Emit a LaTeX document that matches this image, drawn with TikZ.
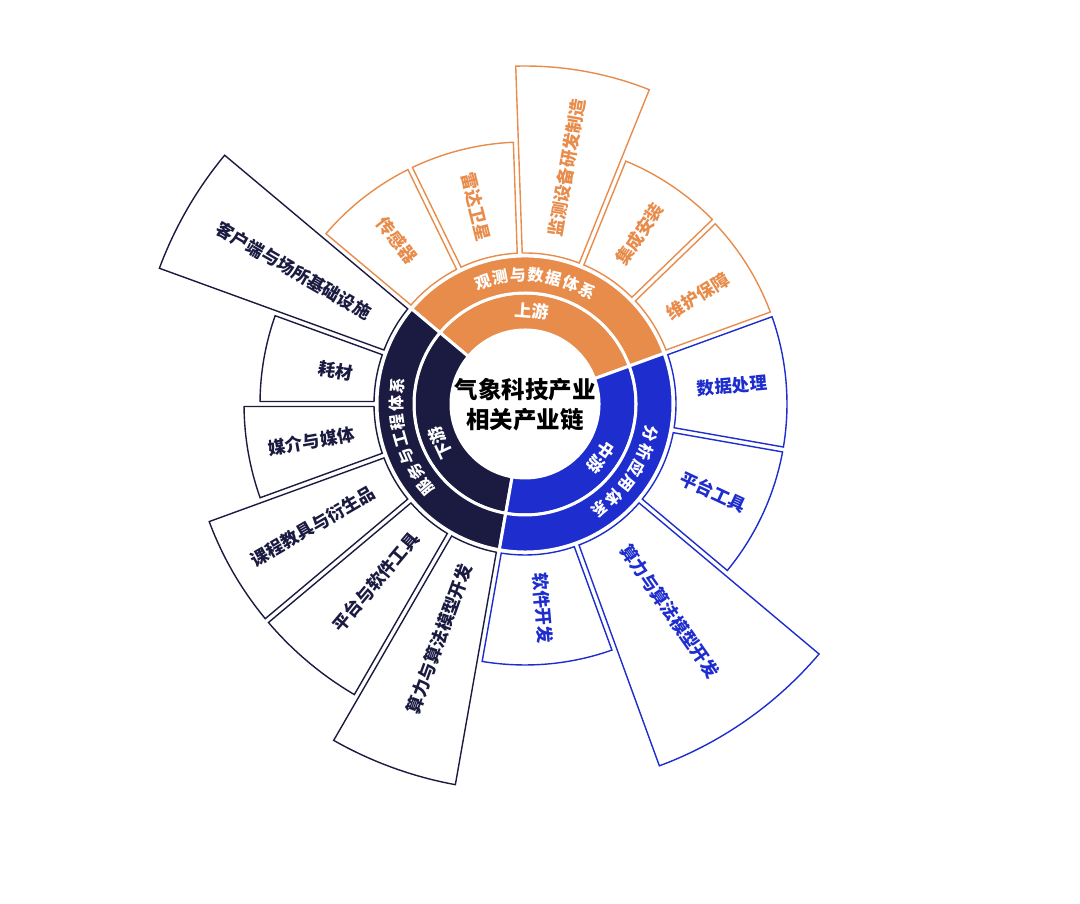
\documentclass[tikz,border=0pt]{standalone}
\usepackage{fontspec}
\setmainfont{Noto Sans CJK SC}
\definecolor{cOr}{HTML}{E88C4C}
\definecolor{cBl}{HTML}{1E2DCD}
\definecolor{cNv}{HTML}{1B1B42}
% a1 a2 r1 r2 inset
\newcommand{\secpath}[5]{({#1+asin(#5/#3)}:#3pt) -- ({#1+asin(#5/#4)}:#4pt) arc[start angle={#1+asin(#5/#4)}, end angle={#2-asin(#5/#4)}, radius=#4pt] -- ({#2-asin(#5/#3)}:#3pt) arc[start angle={#2-asin(#5/#3)}, end angle={#1+asin(#5/#3)}, radius=#3pt] -- cycle}
\tikzset{
  ringseg/.style={draw=white, line width=3pt},
  outbox/.style={line width=1.4pt, fill=white, line join=miter},
  r1lab/.style={text=white, font=\bfseries\fontsize{17}{17}\selectfont, inner sep=0pt},
  r2lab/.style={text=white, font=\bfseries\fontsize{16}{16}\selectfont, inner sep=0pt},
  olab/.style={font=\bfseries\fontsize{17.5}{18}\selectfont, inner sep=0pt},
  ctitle/.style={align=center, font=\bfseries\fontsize{23.5}{30}\selectfont, inner sep=0pt}
}
\begin{document}
\begin{tikzpicture}[x=1pt,y=1pt]
\useasboundingbox (0,0) rectangle (1080,904);
\begin{scope}[shift={(525,500)}]
% inner rings
\path[ringseg, fill=cOr] \secpath{20}{140}{74}{111}{0};
\path[ringseg, fill=cOr] \secpath{20}{140}{111}{148}{0};
\path[ringseg, fill=cNv] \secpath{140}{260}{74}{111}{0};
\path[ringseg, fill=cNv] \secpath{140}{260}{111}{148}{0};
\path[ringseg, fill=cBl] \secpath{-100}{20}{74}{111}{0};
\path[ringseg, fill=cBl] \secpath{-100}{20}{111}{148}{0};
% outer boxes: orange
\draw[outbox, draw=cOr] \secpath{20}{44}{151}{262}{2.5};
\draw[outbox, draw=cOr] \secpath{44}{68}{151}{263}{2.5};
\draw[outbox, draw=cOr] \secpath{68}{92}{151}{338}{2.5};
\draw[outbox, draw=cOr] \secpath{92}{116}{151}{262}{2.5};
\draw[outbox, draw=cOr] \secpath{116}{140}{151}{262}{2.5};
% navy
\draw[outbox, draw=cNv] \secpath{140}{160}{151}{390}{2.5};
\draw[outbox, draw=cNv] \secpath{160}{180}{151}{265}{2.5};
\draw[outbox, draw=cNv] \secpath{180}{200}{151}{281}{2.5};
\draw[outbox, draw=cNv] \secpath{200}{220}{151}{337}{2.5};
\draw[outbox, draw=cNv] \secpath{220}{240}{151}{337}{2.5};
\draw[outbox, draw=cNv] \secpath{240}{260}{151}{387}{2.5};
% blue
\draw[outbox, draw=cBl] \secpath{-100}{-70}{151}{261}{2.5};
\draw[outbox, draw=cBl] \secpath{-70}{-40}{151}{386}{2.5};
\draw[outbox, draw=cBl] \secpath{-40}{-10}{151}{262}{2.5};
\draw[outbox, draw=cBl] \secpath{-10}{20}{151}{262}{2.5};
% center title
\node[ctitle] (title) at (0,-1pt) {气象科技产业\\相关产业链};
% ring 1 labels
\node[r1lab, rotate=-4] (up) at (86:93pt) {上游};
\node[r1lab, rotate=-125] (midl) at (-35:93pt) {中游};
\node[r1lab, rotate=115] (down) at (205:93pt) {下游};
% ring 2 labels, character by character along the arc
\foreach \c [count=\i] in {观,测,与,数,据,体,系}
  \node[r2lab, rotate={85+(4-\i)*8-90}] (obs\i) at ({85+(4-\i)*8}:129pt) {\c};
\foreach \c [count=\i] in {分,析,应,用,体,系}
  \node[r2lab, rotate={-34+(3.5-\i)*8.2-90}] (ana\i) at ({-34+(3.5-\i)*8.2}:129pt) {\c};
\foreach \c [count=\i] in {服,务,与,工,程,体,系}
  \node[r2lab, rotate={196+(4-\i)*8-90}] (srv\i) at ({196+(4-\i)*8}:129pt) {\c};
% outer labels
\node[olab, text=cOr, rotate=32] (o1) at (32:204pt) {维护保障};
\node[olab, text=cOr, rotate=56] (o2) at (56:205pt) {集成安装};
\node[olab, text=cOr, rotate=80] (o3) at (80:240pt) {监测设备研发制造};
\node[olab, text=cOr, rotate=-76] (o4) at (104:203pt) {雷达卫星};
\node[olab, text=cOr, rotate=-52] (o5) at (128:208pt) {传感器};
\node[olab, text=cNv, rotate=-30] (d1) at (150:267pt) {客户端与场所基础设施};
\node[olab, text=cNv, rotate=-10] (d2) at (170:192pt) {耗材};
\node[olab, text=cNv, rotate=10] (d3) at (190:217pt) {媒介与媒体};
\node[olab, text=cNv, rotate=30] (d4) at (210:245pt) {课程教具与衍生品};
\node[olab, text=cNv, rotate=50] (d5) at (230:232pt) {平台与软件工具};
\node[olab, text=cNv, rotate=70] (d6) at (250:250pt) {算力与算法模型开发};
\node[olab, text=cBl, rotate=-85] (b1) at (-85:205pt) {软件开发};
\node[olab, text=cBl, rotate=-55] (b2) at (-55:253pt) {算力与算法模型开发};
\node[olab, text=cBl, rotate=-25] (b3) at (-25:208pt) {平台工具};
\node[olab, text=cBl, rotate=5] (b4) at (5:208pt) {数据处理};
\end{scope}
\end{tikzpicture}
\end{document}
